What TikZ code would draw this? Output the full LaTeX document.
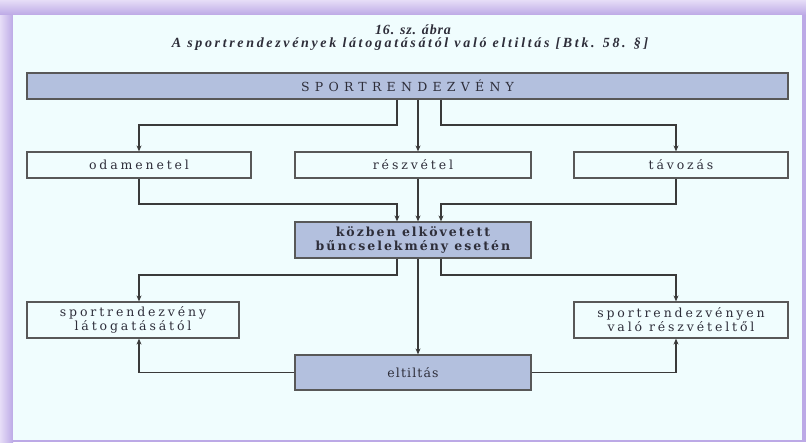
\documentclass[tikz,border=0pt]{standalone}
\usepackage{fontspec}
\setmainfont{Liberation Serif}
\newfontfamily\boxfont{DejaVu Serif}
\usetikzlibrary{arrows.meta}
\definecolor{bgc}{HTML}{F0FDFE}
\definecolor{frame}{HTML}{BCA9E6}
\definecolor{frametop}{HTML}{E6DDF7}
\definecolor{boxfill}{HTML}{B3C0DE}
\definecolor{ink}{HTML}{2E2E3A}
\definecolor{linec}{HTML}{3A3A3A}
\tikzset{
  every node/.style={text=ink},
  plainbox/.style={draw=linec!85, line width=1.2pt, fill=bgc, inner sep=0pt, align=center, font=\boxfont\fontsize{12.5}{14}\selectfont\addfontfeature{LetterSpace=23}},
  bluebox/.style={plainbox, fill=boxfill},
  titletext/.style={font=\fontsize{14}{15}\selectfont\bfseries\itshape\addfontfeature{LetterSpace=19}},
  conn/.style={draw=linec, line width=1.1pt},
  arr/.style={conn, -{Stealth[length=6pt,width=5pt]}},
}
\begin{document}
\begin{tikzpicture}[x=1pt,y=-1pt]
\useasboundingbox (0,0) rectangle (806,442);
% frame
\fill[frame] (0,0) rectangle (806,442);
\shade[top color=frametop, bottom color=frame] (0,0) rectangle (806,15);
\shade[left color=frametop, right color=frame] (0,15) rectangle (13,442);
\fill[bgc] (13,15) rectangle (802,440);
% title
\node[titletext, font=\fontsize{14}{15}\selectfont\bfseries\itshape\addfontfeature{LetterSpace=6}] (t1) at (413,30) {16. sz. ábra};
\node[titletext] (t2) at (410,44) {A sportrendezvények látogatásától való eltiltás [Btk. 58. §]};
% boxes
\node[bluebox, minimum width=761pt, minimum height=26pt, font=\boxfont\fontsize{12.5}{14}\selectfont\addfontfeature{LetterSpace=42}] (top) at (407.5,86) {SPORTRENDEZVÉNY};
\node[plainbox, minimum width=224pt, minimum height=26pt] (oda) at (139,165) {odamenetel};
\node[plainbox, minimum width=236pt, minimum height=26pt] (resz) at (413,165) {részvétel};
\node[plainbox, minimum width=214pt, minimum height=26pt] (tav) at (681,165) {távozás};
\node[bluebox, minimum width=236pt, minimum height=36pt, font=\boxfont\fontsize{12.5}{14}\selectfont\bfseries\addfontfeature{LetterSpace=16}] (koz) at (413,240) {közben elkövetett\\bűncselekmény esetén};
\node[plainbox, minimum width=212pt, minimum height=36pt] (lft) at (133,320) {sportrendezvény\\látogatásától};
\node[plainbox, minimum width=214pt, minimum height=36pt] (rgt) at (681,320) {sportrendezvényen\\való részvételtől};
\node[bluebox, minimum width=236pt, minimum height=35pt, font=\boxfont\fontsize{12.5}{14}\selectfont\addfontfeature{LetterSpace=9}] (elt) at (413,372.5) {eltiltás};
% helper coordinates
\coordinate (cA) at (139,0);
\coordinate (cL) at (397,0);
\coordinate (cM) at (418,0);
\coordinate (cR) at (441,0);
\coordinate (cB) at (676,0);
\coordinate (r1) at (0,125);
\coordinate (r2) at (0,204);
\coordinate (r3) at (0,275);
% connectors
\draw[arr] (top.south -| cL) -- (cL |- r1) -- (cA |- r1) -- (oda.north -| cA);
\draw[arr] (top.south -| cM) -- (resz.north -| cM);
\draw[arr] (top.south -| cR) -- (cR |- r1) -- (cB |- r1) -- (tav.north -| cB);
\draw[arr] (oda.south -| cA) -- (cA |- r2) -- (cL |- r2) -- (koz.north -| cL);
\draw[arr] (resz.south -| cM) -- (koz.north -| cM);
\draw[arr] (tav.south -| cB) -- (cB |- r2) -- (cR |- r2) -- (koz.north -| cR);
\draw[arr] (koz.south -| cL) -- (cL |- r3) -- (cA |- r3) -- (lft.north -| cA);
\draw[arr] (koz.south -| cM) -- (elt.north -| cM);
\draw[arr] (koz.south -| cR) -- (cR |- r3) -- (cB |- r3) -- (rgt.north -| cB);
\draw[arr] (elt.west) -- (elt.west -| cA) -- (lft.south -| cA);
\draw[arr] (elt.east) -- (elt.east -| cB) -- (rgt.south -| cB);
\end{tikzpicture}
\end{document}
